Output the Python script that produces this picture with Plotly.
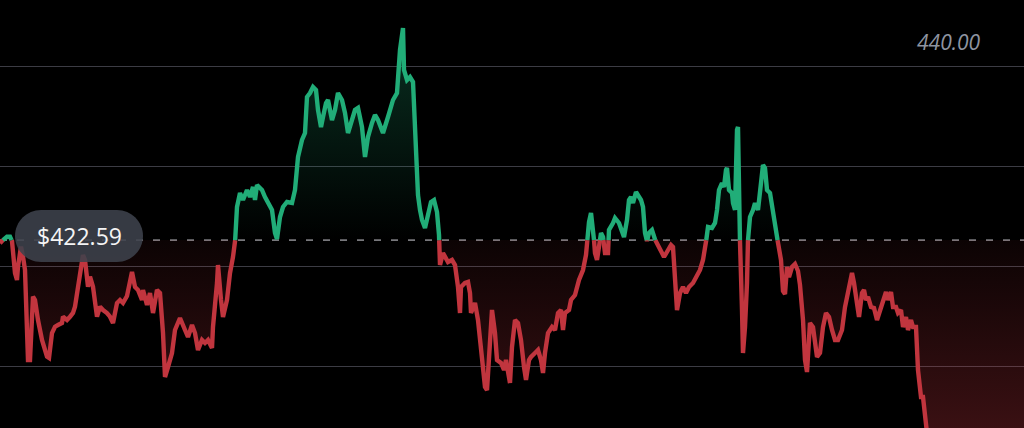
import plotly.graph_objects as go

# ---- data (time index, price) ----
base_price = 422.59
top_label = 440.00
grid_vals = [410, 420, 430, 440]

t_idx = [0, 3, 7, 10, 12, 15, 17, 18, 21, 23, 25, 28, 30, 33, 35, 38, 42, 47, 49, 52, 55, 58, 62, 63, 67, 70, 73, 75, 78, 82, 83, 85, 88, 90, 93, 97, 100, 103, 107, 110, 113, 117, 120, 123, 127,
         132, 135, 138, 142, 143, 147, 150, 153, 157, 160, 163, 165, 168, 172, 175, 180, 185, 188, 192, 195, 198, 202, 205, 208, 212, 213, 217, 218, 221, 223, 227, 230, 233, 235,
         237, 240, 243, 247, 250, 253, 255, 257, 262, 265, 268, 272, 275, 277, 280, 283, 287, 292, 295, 298, 302, 305, 307, 310, 313, 316, 318, 321, 323, 326, 328, 332, 335, 338, 342, 345, 348, 352, 355, 358, 362, 365, 368, 372, 375, 378, 383, 388, 393, 397, 400, 403, 404, 407, 410, 413, 415, 418, 420, 422, 425, 428, 431, 434, 437, 439, 440,
         443, 448, 452, 455, 458, 460, 461, 465, 468, 470, 471, 475, 478, 481, 485, 487, 490, 492, 495, 497, 501, 504, 506, 510, 512, 515, 518, 521, 524, 526, 529, 531, 535, 538, 541, 543, 545, 548, 552, 555, 558, 561, 563, 565, 569, 571, 575,
         579, 583, 586, 589, 591, 593, 595, 597, 599, 601, 603, 605, 608, 609, 613, 615, 619, 622, 624, 627, 629, 631, 633, 636, 639, 641, 643, 645, 647, 649, 652, 654, 657, 659, 662, 664, 668, 671, 673, 675, 677, 680, 683, 686, 689, 693, 696, 700, 703,
         706, 708, 712, 715, 717, 719, 722, 724, 726, 727, 729, 732, 733, 735, 737, 738, 740, 742, 743, 745, 747, 748, 750, 753, 755, 758, 761, 763, 765, 767, 770, 772, 774, 776, 778, 781, 783, 785, 787, 789, 792, 795, 798,
         800, 803, 805, 807, 810, 813, 815, 817, 820, 823, 826, 829, 832, 835, 838, 842, 845, 848, 852, 854, 857, 859, 862, 864, 866, 868, 871, 874, 877, 880, 883, 886, 888, 891, 893, 896, 898, 901, 903, 906, 908, 911, 913, 916, 918, 921, 923, 926,
         929, 935, 960, 990, 1024]

price = [422.27, 422.6, 422.93, 422.93, 422.5, 419.3, 418.6, 419.93, 421.93, 420.93, 419.6, 410.6, 410.6, 416.93, 416.6, 414.6, 412.6, 410.93, 410.8, 413.3, 413.93, 414.1, 414.3, 414.93, 414.6, 414.93, 415.3, 415.93, 417.93, 420.6, 421.1, 420.6, 417.93, 418.93, 417.93, 414.93, 415.93, 415.6, 415.3, 414.93, 414.3, 416.3, 416.6, 416.3, 417.0,
         419.4, 417.9, 417.6, 416.6, 417.6, 416.1, 417.3, 415.3, 417.6, 417.3, 413.3, 408.9, 409.9, 411.3, 413.6, 414.8, 413.6, 412.9, 414.1, 413.3, 411.6, 412.6, 412.3, 412.6, 411.8, 413.9, 418.3, 420.1, 416.6, 414.9, 416.6, 419.3, 420.9, 422.3,
         425.9, 427.3, 426.6, 427.6, 426.9, 427.9, 426.6, 428.1, 427.6, 426.9, 426.3, 425.6, 423.3, 422.7, 424.9, 425.9, 426.4, 426.3, 427.6, 430.9, 432.6, 433.3, 436.9, 437.3, 437.9, 437.6, 435.6, 433.9, 434.9, 436.3, 436.6, 434.6, 435.6, 437.3, 436.6, 435.3, 433.3, 434.6, 435.6, 435.8, 433.9, 430.9, 432.9, 434.3, 435.1, 434.6, 433.3, 434.9, 436.6, 437.3, 441.6, 443.8, 439.6, 438.6, 438.9, 438.4, 433.6, 427.1, 425.6, 424.6, 423.8, 425.3, 426.4, 426.6, 425.4, 423.1, 420.1,
         421.3, 420.4, 420.6, 420.1, 417.9, 415.3, 417.9, 418.3, 418.4, 417.3, 415.3, 416.3, 414.6, 411.3, 407.9, 407.6, 411.9, 415.6, 413.3, 410.6, 410.3, 409.6, 410.6, 408.3, 411.9, 414.6, 414.3, 412.6, 409.9, 408.6, 410.6, 410.9, 411.3, 411.6, 410.6, 409.3, 411.3, 413.3, 413.9, 413.6, 415.3, 415.6, 413.6, 415.3, 415.6, 416.6, 417.1,
         418.6, 419.6, 421.1, 424.4, 425.3, 423.9, 421.3, 420.6, 421.9, 423.3, 422.9, 421.3, 421.3, 423.6, 424.3, 424.8, 424.3, 423.6, 422.9, 424.6, 426.6, 426.9, 426.3, 427.4, 426.9, 426.6, 425.9, 423.3, 422.5, 423.3, 423.6, 422.8, 422.3, 421.8, 421.3, 420.9, 421.6, 422.1, 421.9, 417.9, 415.6, 417.3, 417.9, 417.3, 417.9, 418.3, 418.9, 419.6, 420.6,
         422.4, 423.9, 423.8, 424.3, 425.6, 427.6, 428.3, 427.9, 429.6, 429.8, 427.6, 427.3, 426.3, 425.6, 433.6, 433.9, 422.3, 415.6, 411.3, 413.9, 418.3, 422.6, 424.9, 425.6, 426.3, 425.6, 428.9, 430.1, 429.8, 427.6, 427.3, 425.9, 424.9, 423.6, 422.3, 420.6, 417.5, 417.2, 419.9, 418.9, 419.9, 420.2, 419.5,
         418.1, 414.6, 410.6, 409.4, 414.3, 413.9, 411.9, 410.9, 411.3, 413.9, 415.3, 414.9, 413.6, 412.6, 412.6, 413.6, 415.9, 417.6, 419.3, 418.3, 416.3, 414.9, 417.3, 417.6, 416.6, 416.9, 415.9, 415.8, 414.6, 415.6, 416.6, 417.4, 416.6, 417.4, 415.9, 415.9, 415.3, 415.6, 413.9, 414.9, 413.6, 414.6, 413.9, 413.9, 409.6, 406.9, 406.9, 403.9,
         401.5, 400.8, 400.5, 400.2, 399.9]

# ---- styling ----
GREEN = "#21ad78"
RED = "#c1353e"
Y_RANGE = [403.8, 446.6]
X_RANGE = [0, 1024]
W, H = 1024, 428

# split the series at baseline crossings
xs, ys = [], []
for i in range(len(t_idx)):
    if i > 0:
        a, b = price[i - 1] - base_price, price[i] - base_price
        if a * b < 0:
            f = a / (a - b)
            xs.append(t_idx[i - 1] + f * (t_idx[i] - t_idx[i - 1]))
            ys.append(base_price)
    xs.append(t_idx[i])
    ys.append(price[i])

up_line = [y if y >= base_price else None for y in ys]
dn_line = [y if y <= base_price else None for y in ys]
up_fill = [max(y, base_price) for y in ys]
dn_fill = [min(y, base_price) for y in ys]
base_line = [base_price] * len(xs)

fig = go.Figure()
fig.add_trace(go.Scatter(x=xs, y=base_line, mode="lines", line=dict(width=0), hoverinfo="skip"))
fig.add_trace(go.Scatter(
    x=xs, y=up_fill, mode="lines", line=dict(width=0), fill="tonexty",
    fillgradient=dict(type="vertical", start=base_price, stop=Y_RANGE[1],
                      colorscale=[[0, "rgba(33,173,120,0.0)"], [1, "rgba(33,173,120,0.32)"]]),
    hoverinfo="skip"))
fig.add_trace(go.Scatter(x=xs, y=base_line, mode="lines", line=dict(width=0), hoverinfo="skip"))
fig.add_trace(go.Scatter(
    x=xs, y=dn_fill, mode="lines", line=dict(width=0), fill="tonexty",
    fillgradient=dict(type="vertical", start=base_price, stop=Y_RANGE[0],
                      colorscale=[[0, "rgba(193,53,62,0.06)"], [1, "rgba(193,53,62,0.30)"]]),
    hoverinfo="skip"))
fig.add_trace(go.Scatter(x=xs, y=dn_line, mode="lines", line=dict(color=RED, width=4.4),
                         connectgaps=False, hoverinfo="skip"))
fig.add_trace(go.Scatter(x=xs, y=up_line, mode="lines", line=dict(color=GREEN, width=4.4),
                         connectgaps=False, hoverinfo="skip"))

# dashed baseline
fig.add_shape(type="line", xref="paper", x0=0, x1=1, yref="y", y0=base_price, y1=base_price,
              line=dict(color="rgba(160,160,165,0.75)", width=1.6, dash="7px,10px"), layer="below")


# pill-shaped price label
def pill(px0, py0, px1, py1):
    r = (py1 - py0) / 2
    k = 0.5523 * r
    def P(x, y):
        return f"{x / W:.5f},{1 - y / H:.5f}"
    yc = (py0 + py1) / 2
    return (f"M{P(px0 + r, py0)} L{P(px1 - r, py0)} "
            f"C{P(px1 - r + k, py0)} {P(px1, yc - k)} {P(px1, yc)} "
            f"C{P(px1, yc + k)} {P(px1 - r + k, py1)} {P(px1 - r, py1)} "
            f"L{P(px0 + r, py1)} "
            f"C{P(px0 + r - k, py1)} {P(px0, yc + k)} {P(px0, yc)} "
            f"C{P(px0, yc - k)} {P(px0 + r - k, py0)} {P(px0 + r, py0)} Z")


fig.add_shape(type="path", xref="paper", yref="paper", path=pill(15, 210, 143, 262),
              fillcolor="rgba(62,66,76,0.88)", line=dict(width=0), layer="above")
fig.add_annotation(xref="paper", yref="paper", x=79 / W, y=1 - 236 / H, text=f"${base_price:.2f}",
                   showarrow=False, font=dict(family="Open Sans", size=23, color="#f4f4f4"),
                   xanchor="center", yanchor="middle")
fig.add_annotation(xref="paper", yref="paper", x=983 / W, y=1 - 42 / H, text=f"{top_label:.2f}",
                   showarrow=False, font=dict(family="Open Sans", size=21, color="#8e94a0", style="italic"),
                   xanchor="right", yanchor="middle")

fig.update_layout(
    width=W, height=H, margin=dict(l=0, r=0, t=0, b=0),
    paper_bgcolor="#000000", plot_bgcolor="#000000", showlegend=False,
    xaxis=dict(range=X_RANGE, visible=False, fixedrange=True),
    yaxis=dict(range=Y_RANGE, tickvals=grid_vals, showticklabels=False, showgrid=True,
               gridcolor="#3c3c44", gridwidth=1, zeroline=False, fixedrange=True),
)

fig.write_html("out.html", config={"displayModeBar": False},
               post_script="document.body.style.margin='0';document.body.style.background='#000';")
